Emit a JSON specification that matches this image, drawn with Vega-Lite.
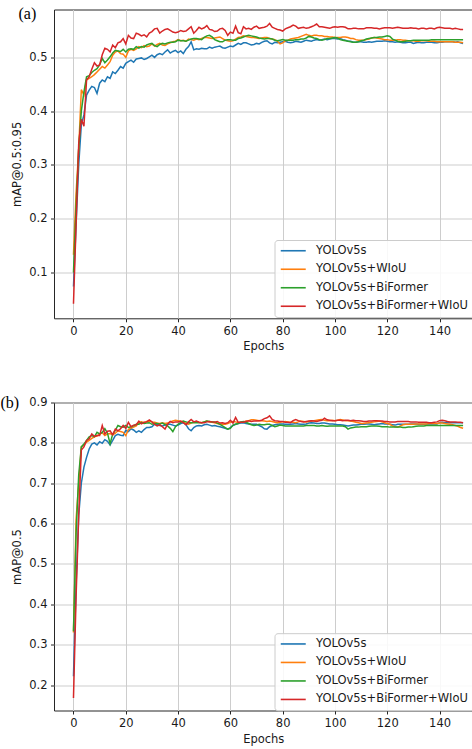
{
"$schema":"https://vega.github.io/schema/vega-lite/v6.json",
"padding":{"left":0,"top":4.5,"right":0,"bottom":2},
"spacing":40,
"config":{"font":"DejaVu Sans","view":{"stroke":"#262626","strokeWidth":1},
"axis":{"grid":true,"gridColor":"#cdcdcd","gridWidth":1,"domain":false,"tickColor":"#262626","tickSize":3.5,"tickWidth":1,"labelPadding":3.5,"labelFontSize":11.5,"labelColor":"#1a1a1a","titleFontSize":11.5,"titleFontWeight":"normal","titleColor":"#1a1a1a","labelFont":"DejaVu Sans","titleFont":"DejaVu Sans"},
"legend":{"orient":"none","title":null,"symbolType":"M-4,0H4","symbolSize":39,"symbolStrokeWidth":1.6,"labelFontSize":11.5,"labelFont":"DejaVu Sans","labelColor":"#1a1a1a","fillColor":"rgba(255,255,255,0.85)","strokeColor":"#cccccc","cornerRadius":3,"padding":5,"rowPadding":5.5,"symbolOffset":8,"labelOffset":17}},
"resolve":{"scale":{"color":"independent"},"legend":{"color":"independent"}},
"datasets":{
"a":[
{"e":0,"s":0.074,"w":0.133,"b":0.100,"bw":0.042},
{"e":1,"s":0.190,"w":0.247,"b":0.223,"bw":0.190},
{"e":2,"s":0.300,"w":0.330,"b":0.330,"bw":0.340},
{"e":3,"s":0.375,"w":0.440,"b":0.400,"bw":0.385},
{"e":4,"s":0.393,"w":0.430,"b":0.436,"bw":0.372},
{"e":5,"s":0.430,"w":0.458,"b":0.464,"bw":0.458},
{"e":6,"s":0.439,"w":0.461,"b":0.466,"bw":0.464},
{"e":7,"s":0.446,"w":0.464,"b":0.472,"bw":0.478},
{"e":8,"s":0.444,"w":0.468,"b":0.476,"bw":0.490},
{"e":9,"s":0.433,"w":0.473,"b":0.479,"bw":0.484},
{"e":10,"s":0.452,"w":0.478,"b":0.486,"bw":0.486},
{"e":11,"s":0.458,"w":0.483,"b":0.498,"bw":0.505},
{"e":12,"s":0.455,"w":0.480,"b":0.490,"bw":0.517},
{"e":13,"s":0.464,"w":0.486,"b":0.495,"bw":0.515},
{"e":14,"s":0.461,"w":0.492,"b":0.501,"bw":0.510},
{"e":15,"s":0.473,"w":0.504,"b":0.508,"bw":0.523},
{"e":16,"s":0.470,"w":0.510,"b":0.513,"bw":0.518},
{"e":17,"s":0.476,"w":0.512,"b":0.512,"bw":0.527},
{"e":18,"s":0.483,"w":0.507,"b":0.511,"bw":0.529},
{"e":19,"s":0.480,"w":0.506,"b":0.515,"bw":0.535},
{"e":20,"s":0.489,"w":0.500,"b":0.510,"bw":0.525},
{"e":21,"s":0.492,"w":0.512,"b":0.515,"bw":0.541},
{"e":22,"s":0.495,"w":0.515,"b":0.516,"bw":0.536},
{"e":23,"s":0.491,"w":0.513,"b":0.515,"bw":0.535},
{"e":24,"s":0.497,"w":0.516,"b":0.520,"bw":0.545},
{"e":25,"s":0.498,"w":0.520,"b":0.517,"bw":0.543},
{"e":26,"s":0.499,"w":0.518,"b":0.520,"bw":0.540},
{"e":27,"s":0.496,"w":0.522,"b":0.519,"bw":0.542},
{"e":28,"s":0.498,"w":0.520,"b":0.523,"bw":0.538},
{"e":29,"s":0.501,"w":0.521,"b":0.525,"bw":0.545},
{"e":30,"s":0.504,"w":0.525,"b":0.526,"bw":0.548},
{"e":31,"s":0.500,"w":0.521,"b":0.522,"bw":0.553},
{"e":32,"s":0.505,"w":0.524,"b":0.520,"bw":0.554},
{"e":33,"s":0.507,"w":0.526,"b":0.524,"bw":0.545},
{"e":34,"s":0.505,"w":0.523,"b":0.526,"bw":0.549},
{"e":35,"s":0.510,"w":0.522,"b":0.525,"bw":0.552},
{"e":36,"s":0.514,"w":0.525,"b":0.527,"bw":0.553},
{"e":37,"s":0.508,"w":0.527,"b":0.528,"bw":0.550},
{"e":38,"s":0.511,"w":0.529,"b":0.528,"bw":0.547},
{"e":39,"s":0.513,"w":0.530,"b":0.529,"bw":0.546},
{"e":40,"s":0.509,"w":0.533,"b":0.532,"bw":0.547},
{"e":41,"s":0.512,"w":0.531,"b":0.531,"bw":0.550},
{"e":42,"s":0.507,"w":0.532,"b":0.531,"bw":0.548},
{"e":43,"s":0.515,"w":0.530,"b":0.530,"bw":0.549},
{"e":44,"s":0.520,"w":0.534,"b":0.532,"bw":0.553},
{"e":45,"s":0.529,"w":0.533,"b":0.534,"bw":0.557},
{"e":46,"s":0.514,"w":0.532,"b":0.535,"bw":0.545},
{"e":47,"s":0.516,"w":0.534,"b":0.535,"bw":0.550},
{"e":48,"s":0.515,"w":0.533,"b":0.534,"bw":0.556},
{"e":49,"s":0.517,"w":0.535,"b":0.533,"bw":0.553},
{"e":50,"s":0.516,"w":0.537,"b":0.537,"bw":0.555},
{"e":51,"s":0.516,"w":0.537,"b":0.540,"bw":0.559},
{"e":52,"s":0.519,"w":0.536,"b":0.541,"bw":0.552},
{"e":53,"s":0.517,"w":0.535,"b":0.538,"bw":0.551},
{"e":54,"s":0.519,"w":0.536,"b":0.533,"bw":0.548},
{"e":55,"s":0.520,"w":0.537,"b":0.531,"bw":0.549},
{"e":56,"s":0.521,"w":0.538,"b":0.529,"bw":0.553},
{"e":57,"s":0.518,"w":0.535,"b":0.529,"bw":0.554},
{"e":58,"s":0.517,"w":0.532,"b":0.532,"bw":0.550},
{"e":59,"s":0.519,"w":0.531,"b":0.533,"bw":0.541},
{"e":60,"s":0.521,"w":0.530,"b":0.533,"bw":0.547},
{"e":61,"s":0.520,"w":0.531,"b":0.532,"bw":0.545},
{"e":62,"s":0.523,"w":0.534,"b":0.532,"bw":0.558},
{"e":63,"s":0.526,"w":0.537,"b":0.535,"bw":0.546},
{"e":64,"s":0.524,"w":0.538,"b":0.536,"bw":0.544},
{"e":65,"s":0.527,"w":0.540,"b":0.538,"bw":0.557},
{"e":66,"s":0.527,"w":0.539,"b":0.540,"bw":0.553},
{"e":67,"s":0.525,"w":0.538,"b":0.541,"bw":0.554},
{"e":68,"s":0.523,"w":0.537,"b":0.540,"bw":0.552},
{"e":69,"s":0.524,"w":0.537,"b":0.539,"bw":0.556},
{"e":70,"s":0.526,"w":0.536,"b":0.538,"bw":0.558},
{"e":71,"s":0.525,"w":0.535,"b":0.536,"bw":0.554},
{"e":72,"s":0.528,"w":0.536,"b":0.535,"bw":0.555},
{"e":73,"s":0.530,"w":0.537,"b":0.534,"bw":0.556},
{"e":74,"s":0.531,"w":0.537,"b":0.535,"bw":0.558},
{"e":75,"s":0.527,"w":0.535,"b":0.535,"bw":0.563},
{"e":76,"s":0.525,"w":0.534,"b":0.534,"bw":0.556},
{"e":77,"s":0.528,"w":0.533,"b":0.532,"bw":0.554},
{"e":78,"s":0.527,"w":0.530,"b":0.531,"bw":0.552},
{"e":79,"s":0.528,"w":0.525,"b":0.532,"bw":0.551},
{"e":80,"s":0.529,"w":0.527,"b":0.533,"bw":0.549},
{"e":81,"s":0.530,"w":0.531,"b":0.532,"bw":0.553},
{"e":82,"s":0.528,"w":0.532,"b":0.532,"bw":0.555},
{"e":83,"s":0.527,"w":0.534,"b":0.532,"bw":0.557},
{"e":84,"s":0.528,"w":0.535,"b":0.532,"bw":0.560},
{"e":85,"s":0.530,"w":0.536,"b":0.533,"bw":0.558},
{"e":86,"s":0.529,"w":0.537,"b":0.533,"bw":0.554},
{"e":87,"s":0.528,"w":0.539,"b":0.534,"bw":0.555},
{"e":88,"s":0.530,"w":0.541,"b":0.534,"bw":0.556},
{"e":89,"s":0.532,"w":0.543,"b":0.536,"bw":0.554},
{"e":90,"s":0.531,"w":0.541,"b":0.539,"bw":0.555},
{"e":91,"s":0.530,"w":0.540,"b":0.538,"bw":0.557},
{"e":92,"s":0.532,"w":0.541,"b":0.536,"bw":0.559},
{"e":93,"s":0.533,"w":0.541,"b":0.535,"bw":0.562},
{"e":94,"s":0.532,"w":0.540,"b":0.533,"bw":0.557},
{"e":95,"s":0.533,"w":0.540,"b":0.532,"bw":0.557},
{"e":96,"s":0.534,"w":0.539,"b":0.533,"bw":0.556},
{"e":97,"s":0.533,"w":0.539,"b":0.535,"bw":0.555},
{"e":98,"s":0.534,"w":0.538,"b":0.535,"bw":0.554},
{"e":99,"s":0.535,"w":0.538,"b":0.536,"bw":0.556},
{"e":100,"s":0.535,"w":0.537,"b":0.537,"bw":0.557},
{"e":101,"s":0.534,"w":0.537,"b":0.536,"bw":0.556},
{"e":102,"s":0.535,"w":0.537,"b":0.533,"bw":0.557},
{"e":103,"s":0.533,"w":0.538,"b":0.532,"bw":0.557},
{"e":104,"s":0.532,"w":0.538,"b":0.531,"bw":0.556},
{"e":105,"s":0.530,"w":0.537,"b":0.530,"bw":0.553},
{"e":106,"s":0.530,"w":0.535,"b":0.529,"bw":0.553},
{"e":107,"s":0.528,"w":0.535,"b":0.528,"bw":0.554},
{"e":108,"s":0.528,"w":0.533,"b":0.528,"bw":0.554},
{"e":109,"s":0.529,"w":0.532,"b":0.529,"bw":0.553},
{"e":110,"s":0.529,"w":0.532,"b":0.531,"bw":0.553},
{"e":111,"s":0.528,"w":0.532,"b":0.532,"bw":0.553},
{"e":112,"s":0.528,"w":0.533,"b":0.534,"bw":0.555},
{"e":113,"s":0.529,"w":0.534,"b":0.535,"bw":0.555},
{"e":114,"s":0.528,"w":0.536,"b":0.536,"bw":0.555},
{"e":115,"s":0.529,"w":0.537,"b":0.537,"bw":0.554},
{"e":116,"s":0.530,"w":0.536,"b":0.537,"bw":0.554},
{"e":117,"s":0.530,"w":0.535,"b":0.538,"bw":0.553},
{"e":118,"s":0.530,"w":0.534,"b":0.538,"bw":0.554},
{"e":119,"s":0.531,"w":0.533,"b":0.539,"bw":0.555},
{"e":120,"s":0.530,"w":0.533,"b":0.540,"bw":0.555},
{"e":121,"s":0.529,"w":0.532,"b":0.539,"bw":0.555},
{"e":122,"s":0.529,"w":0.532,"b":0.534,"bw":0.554},
{"e":123,"s":0.528,"w":0.532,"b":0.532,"bw":0.555},
{"e":124,"s":0.529,"w":0.533,"b":0.530,"bw":0.556},
{"e":125,"s":0.528,"w":0.533,"b":0.529,"bw":0.555},
{"e":126,"s":0.527,"w":0.532,"b":0.529,"bw":0.554},
{"e":127,"s":0.527,"w":0.532,"b":0.530,"bw":0.554},
{"e":128,"s":0.528,"w":0.531,"b":0.531,"bw":0.554},
{"e":129,"s":0.528,"w":0.531,"b":0.531,"bw":0.555},
{"e":130,"s":0.526,"w":0.531,"b":0.532,"bw":0.554},
{"e":131,"s":0.527,"w":0.530,"b":0.532,"bw":0.554},
{"e":132,"s":0.528,"w":0.530,"b":0.532,"bw":0.553},
{"e":133,"s":0.527,"w":0.531,"b":0.532,"bw":0.554},
{"e":134,"s":0.527,"w":0.531,"b":0.532,"bw":0.554},
{"e":135,"s":0.528,"w":0.531,"b":0.532,"bw":0.553},
{"e":136,"s":0.528,"w":0.530,"b":0.532,"bw":0.554},
{"e":137,"s":0.528,"w":0.530,"b":0.533,"bw":0.554},
{"e":138,"s":0.527,"w":0.530,"b":0.533,"bw":0.553},
{"e":139,"s":0.527,"w":0.529,"b":0.533,"bw":0.555},
{"e":140,"s":0.528,"w":0.529,"b":0.533,"bw":0.556},
{"e":141,"s":0.528,"w":0.529,"b":0.533,"bw":0.555},
{"e":142,"s":0.529,"w":0.529,"b":0.533,"bw":0.554},
{"e":143,"s":0.529,"w":0.529,"b":0.533,"bw":0.554},
{"e":144,"s":0.529,"w":0.529,"b":0.533,"bw":0.554},
{"e":145,"s":0.529,"w":0.529,"b":0.533,"bw":0.553},
{"e":146,"s":0.528,"w":0.528,"b":0.533,"bw":0.554},
{"e":147,"s":0.529,"w":0.528,"b":0.533,"bw":0.553},
{"e":148,"s":0.527,"w":0.528,"b":0.533,"bw":0.552},
{"e":149,"s":0.526,"w":0.527,"b":0.533,"bw":0.552}
],
"b":[
{"e":0,"s":0.222,"w":0.330,"b":0.333,"bw":0.168},
{"e":1,"s":0.450,"w":0.610,"b":0.577,"bw":0.420},
{"e":2,"s":0.620,"w":0.700,"b":0.720,"bw":0.620},
{"e":3,"s":0.700,"w":0.790,"b":0.790,"bw":0.782},
{"e":4,"s":0.740,"w":0.795,"b":0.797,"bw":0.790},
{"e":5,"s":0.764,"w":0.802,"b":0.806,"bw":0.806},
{"e":6,"s":0.785,"w":0.806,"b":0.815,"bw":0.810},
{"e":7,"s":0.797,"w":0.811,"b":0.818,"bw":0.822},
{"e":8,"s":0.800,"w":0.815,"b":0.815,"bw":0.816},
{"e":9,"s":0.795,"w":0.817,"b":0.826,"bw":0.818},
{"e":10,"s":0.803,"w":0.822,"b":0.822,"bw":0.818},
{"e":11,"s":0.799,"w":0.825,"b":0.826,"bw":0.843},
{"e":12,"s":0.808,"w":0.818,"b":0.835,"bw":0.822},
{"e":13,"s":0.804,"w":0.822,"b":0.824,"bw":0.829},
{"e":14,"s":0.795,"w":0.823,"b":0.798,"bw":0.830},
{"e":15,"s":0.806,"w":0.820,"b":0.822,"bw":0.820},
{"e":16,"s":0.818,"w":0.824,"b":0.831,"bw":0.834},
{"e":17,"s":0.821,"w":0.830,"b":0.843,"bw":0.830},
{"e":18,"s":0.819,"w":0.828,"b":0.840,"bw":0.835},
{"e":19,"s":0.818,"w":0.826,"b":0.839,"bw":0.843},
{"e":20,"s":0.831,"w":0.818,"b":0.843,"bw":0.836},
{"e":21,"s":0.828,"w":0.833,"b":0.838,"bw":0.851},
{"e":22,"s":0.835,"w":0.837,"b":0.840,"bw":0.840},
{"e":23,"s":0.832,"w":0.839,"b":0.842,"bw":0.844},
{"e":24,"s":0.826,"w":0.842,"b":0.846,"bw":0.845},
{"e":25,"s":0.830,"w":0.850,"b":0.846,"bw":0.854},
{"e":26,"s":0.826,"w":0.852,"b":0.850,"bw":0.847},
{"e":27,"s":0.833,"w":0.850,"b":0.848,"bw":0.851},
{"e":28,"s":0.838,"w":0.853,"b":0.849,"bw":0.852},
{"e":29,"s":0.838,"w":0.854,"b":0.850,"bw":0.857},
{"e":30,"s":0.840,"w":0.852,"b":0.846,"bw":0.852},
{"e":31,"s":0.846,"w":0.851,"b":0.848,"bw":0.846},
{"e":32,"s":0.846,"w":0.849,"b":0.848,"bw":0.842},
{"e":33,"s":0.843,"w":0.848,"b":0.847,"bw":0.845},
{"e":34,"s":0.842,"w":0.850,"b":0.849,"bw":0.840},
{"e":35,"s":0.844,"w":0.848,"b":0.845,"bw":0.834},
{"e":36,"s":0.846,"w":0.849,"b":0.842,"bw":0.846},
{"e":37,"s":0.846,"w":0.852,"b":0.836,"bw":0.853},
{"e":38,"s":0.844,"w":0.854,"b":0.828,"bw":0.850},
{"e":39,"s":0.842,"w":0.856,"b":0.840,"bw":0.852},
{"e":40,"s":0.844,"w":0.855,"b":0.846,"bw":0.852},
{"e":41,"s":0.848,"w":0.853,"b":0.851,"bw":0.854},
{"e":42,"s":0.850,"w":0.853,"b":0.854,"bw":0.850},
{"e":43,"s":0.845,"w":0.848,"b":0.852,"bw":0.845},
{"e":44,"s":0.835,"w":0.846,"b":0.850,"bw":0.852},
{"e":45,"s":0.830,"w":0.849,"b":0.850,"bw":0.858},
{"e":46,"s":0.838,"w":0.852,"b":0.850,"bw":0.852},
{"e":47,"s":0.842,"w":0.853,"b":0.850,"bw":0.854},
{"e":48,"s":0.843,"w":0.851,"b":0.850,"bw":0.851},
{"e":49,"s":0.842,"w":0.850,"b":0.850,"bw":0.850},
{"e":50,"s":0.845,"w":0.852,"b":0.852,"bw":0.850},
{"e":51,"s":0.846,"w":0.854,"b":0.854,"bw":0.852},
{"e":52,"s":0.844,"w":0.852,"b":0.853,"bw":0.853},
{"e":53,"s":0.842,"w":0.851,"b":0.852,"bw":0.852},
{"e":54,"s":0.843,"w":0.850,"b":0.852,"bw":0.851},
{"e":55,"s":0.841,"w":0.848,"b":0.849,"bw":0.853},
{"e":56,"s":0.840,"w":0.847,"b":0.846,"bw":0.849},
{"e":57,"s":0.838,"w":0.846,"b":0.842,"bw":0.850},
{"e":58,"s":0.836,"w":0.846,"b":0.838,"bw":0.848},
{"e":59,"s":0.834,"w":0.848,"b":0.834,"bw":0.850},
{"e":60,"s":0.838,"w":0.851,"b":0.836,"bw":0.856},
{"e":61,"s":0.843,"w":0.853,"b":0.844,"bw":0.849},
{"e":62,"s":0.846,"w":0.852,"b":0.846,"bw":0.863},
{"e":63,"s":0.848,"w":0.850,"b":0.848,"bw":0.851},
{"e":64,"s":0.849,"w":0.851,"b":0.852,"bw":0.851},
{"e":65,"s":0.850,"w":0.852,"b":0.853,"bw":0.851},
{"e":66,"s":0.848,"w":0.854,"b":0.851,"bw":0.853},
{"e":67,"s":0.847,"w":0.855,"b":0.848,"bw":0.855},
{"e":68,"s":0.846,"w":0.857,"b":0.845,"bw":0.853},
{"e":69,"s":0.846,"w":0.857,"b":0.843,"bw":0.854},
{"e":70,"s":0.846,"w":0.856,"b":0.844,"bw":0.854},
{"e":71,"s":0.843,"w":0.855,"b":0.846,"bw":0.855},
{"e":72,"s":0.840,"w":0.855,"b":0.845,"bw":0.856},
{"e":73,"s":0.835,"w":0.854,"b":0.845,"bw":0.860},
{"e":74,"s":0.834,"w":0.853,"b":0.846,"bw":0.862},
{"e":75,"s":0.840,"w":0.854,"b":0.846,"bw":0.867},
{"e":76,"s":0.843,"w":0.853,"b":0.843,"bw":0.858},
{"e":77,"s":0.845,"w":0.851,"b":0.840,"bw":0.855},
{"e":78,"s":0.846,"w":0.850,"b":0.842,"bw":0.854},
{"e":79,"s":0.847,"w":0.851,"b":0.844,"bw":0.853},
{"e":80,"s":0.847,"w":0.852,"b":0.843,"bw":0.853},
{"e":81,"s":0.846,"w":0.853,"b":0.842,"bw":0.851},
{"e":82,"s":0.846,"w":0.852,"b":0.842,"bw":0.851},
{"e":83,"s":0.846,"w":0.851,"b":0.842,"bw":0.850},
{"e":84,"s":0.847,"w":0.851,"b":0.842,"bw":0.855},
{"e":85,"s":0.848,"w":0.850,"b":0.842,"bw":0.858},
{"e":86,"s":0.847,"w":0.852,"b":0.842,"bw":0.855},
{"e":87,"s":0.846,"w":0.854,"b":0.842,"bw":0.853},
{"e":88,"s":0.846,"w":0.853,"b":0.842,"bw":0.852},
{"e":89,"s":0.847,"w":0.852,"b":0.843,"bw":0.853},
{"e":90,"s":0.849,"w":0.853,"b":0.843,"bw":0.854},
{"e":91,"s":0.850,"w":0.854,"b":0.843,"bw":0.855},
{"e":92,"s":0.849,"w":0.855,"b":0.843,"bw":0.854},
{"e":93,"s":0.848,"w":0.856,"b":0.842,"bw":0.853},
{"e":94,"s":0.848,"w":0.857,"b":0.842,"bw":0.855},
{"e":95,"s":0.849,"w":0.858,"b":0.843,"bw":0.856},
{"e":96,"s":0.849,"w":0.856,"b":0.842,"bw":0.861},
{"e":97,"s":0.848,"w":0.855,"b":0.841,"bw":0.857},
{"e":98,"s":0.847,"w":0.855,"b":0.842,"bw":0.856},
{"e":99,"s":0.847,"w":0.856,"b":0.842,"bw":0.855},
{"e":100,"s":0.846,"w":0.855,"b":0.842,"bw":0.855},
{"e":101,"s":0.845,"w":0.856,"b":0.842,"bw":0.856},
{"e":102,"s":0.845,"w":0.858,"b":0.842,"bw":0.856},
{"e":103,"s":0.844,"w":0.857,"b":0.842,"bw":0.855},
{"e":104,"s":0.843,"w":0.855,"b":0.840,"bw":0.856},
{"e":105,"s":0.842,"w":0.855,"b":0.834,"bw":0.856},
{"e":106,"s":0.843,"w":0.854,"b":0.837,"bw":0.855},
{"e":107,"s":0.844,"w":0.853,"b":0.838,"bw":0.856},
{"e":108,"s":0.844,"w":0.851,"b":0.839,"bw":0.855},
{"e":109,"s":0.845,"w":0.850,"b":0.839,"bw":0.855},
{"e":110,"s":0.846,"w":0.848,"b":0.840,"bw":0.854},
{"e":111,"s":0.846,"w":0.848,"b":0.840,"bw":0.853},
{"e":112,"s":0.847,"w":0.849,"b":0.840,"bw":0.853},
{"e":113,"s":0.847,"w":0.850,"b":0.841,"bw":0.854},
{"e":114,"s":0.846,"w":0.851,"b":0.842,"bw":0.854},
{"e":115,"s":0.845,"w":0.852,"b":0.842,"bw":0.855},
{"e":116,"s":0.846,"w":0.853,"b":0.842,"bw":0.855},
{"e":117,"s":0.847,"w":0.854,"b":0.841,"bw":0.854},
{"e":118,"s":0.848,"w":0.852,"b":0.840,"bw":0.854},
{"e":119,"s":0.847,"w":0.850,"b":0.840,"bw":0.853},
{"e":120,"s":0.847,"w":0.848,"b":0.840,"bw":0.853},
{"e":121,"s":0.846,"w":0.846,"b":0.839,"bw":0.852},
{"e":122,"s":0.845,"w":0.842,"b":0.839,"bw":0.852},
{"e":123,"s":0.844,"w":0.840,"b":0.839,"bw":0.852},
{"e":124,"s":0.846,"w":0.839,"b":0.839,"bw":0.853},
{"e":125,"s":0.846,"w":0.842,"b":0.839,"bw":0.853},
{"e":126,"s":0.846,"w":0.845,"b":0.838,"bw":0.853},
{"e":127,"s":0.846,"w":0.846,"b":0.838,"bw":0.853},
{"e":128,"s":0.846,"w":0.846,"b":0.839,"bw":0.853},
{"e":129,"s":0.847,"w":0.846,"b":0.839,"bw":0.852},
{"e":130,"s":0.847,"w":0.846,"b":0.840,"bw":0.852},
{"e":131,"s":0.847,"w":0.847,"b":0.841,"bw":0.852},
{"e":132,"s":0.846,"w":0.847,"b":0.842,"bw":0.851},
{"e":133,"s":0.846,"w":0.847,"b":0.842,"bw":0.851},
{"e":134,"s":0.846,"w":0.847,"b":0.842,"bw":0.851},
{"e":135,"s":0.847,"w":0.847,"b":0.843,"bw":0.851},
{"e":136,"s":0.847,"w":0.848,"b":0.843,"bw":0.850},
{"e":137,"s":0.847,"w":0.848,"b":0.843,"bw":0.850},
{"e":138,"s":0.847,"w":0.848,"b":0.843,"bw":0.851},
{"e":139,"s":0.847,"w":0.848,"b":0.843,"bw":0.852},
{"e":140,"s":0.850,"w":0.849,"b":0.843,"bw":0.855},
{"e":141,"s":0.851,"w":0.849,"b":0.843,"bw":0.856},
{"e":142,"s":0.850,"w":0.848,"b":0.843,"bw":0.855},
{"e":143,"s":0.850,"w":0.847,"b":0.843,"bw":0.853},
{"e":144,"s":0.850,"w":0.846,"b":0.843,"bw":0.852},
{"e":145,"s":0.850,"w":0.845,"b":0.843,"bw":0.852},
{"e":146,"s":0.850,"w":0.843,"b":0.843,"bw":0.852},
{"e":147,"s":0.850,"w":0.841,"b":0.843,"bw":0.851},
{"e":148,"s":0.850,"w":0.838,"b":0.843,"bw":0.851},
{"e":149,"s":0.850,"w":0.836,"b":0.843,"bw":0.850}
]},
"vconcat":[
{"width":418.5,"height":308.8,
"title":{"text":"(a)","anchor":"start","frame":"group","orient":"top","offset":-20,"dx":-35.5,"baseline":"middle","font":"Liberation Serif","fontSize":16,"fontWeight":"normal","color":"#000"},
"data":{"name":"a"},
"transform":[{"fold":["s","w","b","bw"],"as":["k","v"]}],
"mark":{"type":"line","strokeWidth":1.5},
"encoding":{
"x":{"field":"e","type":"quantitative","scale":{"domain":[-7.45,152.6],"nice":false,"zero":false},"axis":{"values":[0,20,40,60,80,100,120,140],"title":"Epochs","titlePadding":4}},
"y":{"field":"v","type":"quantitative","scale":{"domain":[0.015,0.589],"nice":false,"zero":false},"axis":{"values":[0.1,0.2,0.3,0.4,0.5],"format":".1f","title":"mAP@0.5:0.95","titlePadding":6.5}},
"color":{"field":"k","type":"nominal","scale":{"domain":["s","w","b","bw"],"range":["#1f77b4","#ff7f0e","#2ca02c","#d62728"]},"legend":{"legendX":220.5,"legendY":230.5,"labelExpr":"datum.label=='s'?'YOLOv5s':datum.label=='w'?'YOLOv5s+WIoU':datum.label=='b'?'YOLOv5s+BiFormer':'YOLOv5s+BiFormer+WIoU'"}}}},
{"width":418.5,"height":308,
"title":{"text":"(b)","anchor":"start","frame":"group","orient":"top","offset":-22,"dx":-53.5,"baseline":"middle","font":"Liberation Serif","fontSize":16,"fontWeight":"normal","color":"#000"},
"data":{"name":"b"},
"transform":[{"fold":["s","w","b","bw"],"as":["k","v"]}],
"mark":{"type":"line","strokeWidth":1.5},
"encoding":{
"x":{"field":"e","type":"quantitative","scale":{"domain":[-7.45,152.6],"nice":false,"zero":false},"axis":{"values":[0,20,40,60,80,100,120,140],"title":"Epochs","titlePadding":4}},
"y":{"field":"v","type":"quantitative","scale":{"domain":[0.137,0.9],"nice":false,"zero":false},"axis":{"values":[0.2,0.3,0.4,0.5,0.6,0.7,0.8,0.9],"format":".1f","title":"mAP@0.5","titlePadding":6.5}},
"color":{"field":"k","type":"nominal","scale":{"domain":["s","w","b","bw"],"range":["#1f77b4","#ff7f0e","#2ca02c","#d62728"]},"legend":{"legendX":220.5,"legendY":230.7,"labelExpr":"datum.label=='s'?'YOLOv5s':datum.label=='w'?'YOLOv5s+WIoU':datum.label=='b'?'YOLOv5s+BiFormer':'YOLOv5s+BiFormer+WIoU'"}}}}
]}
